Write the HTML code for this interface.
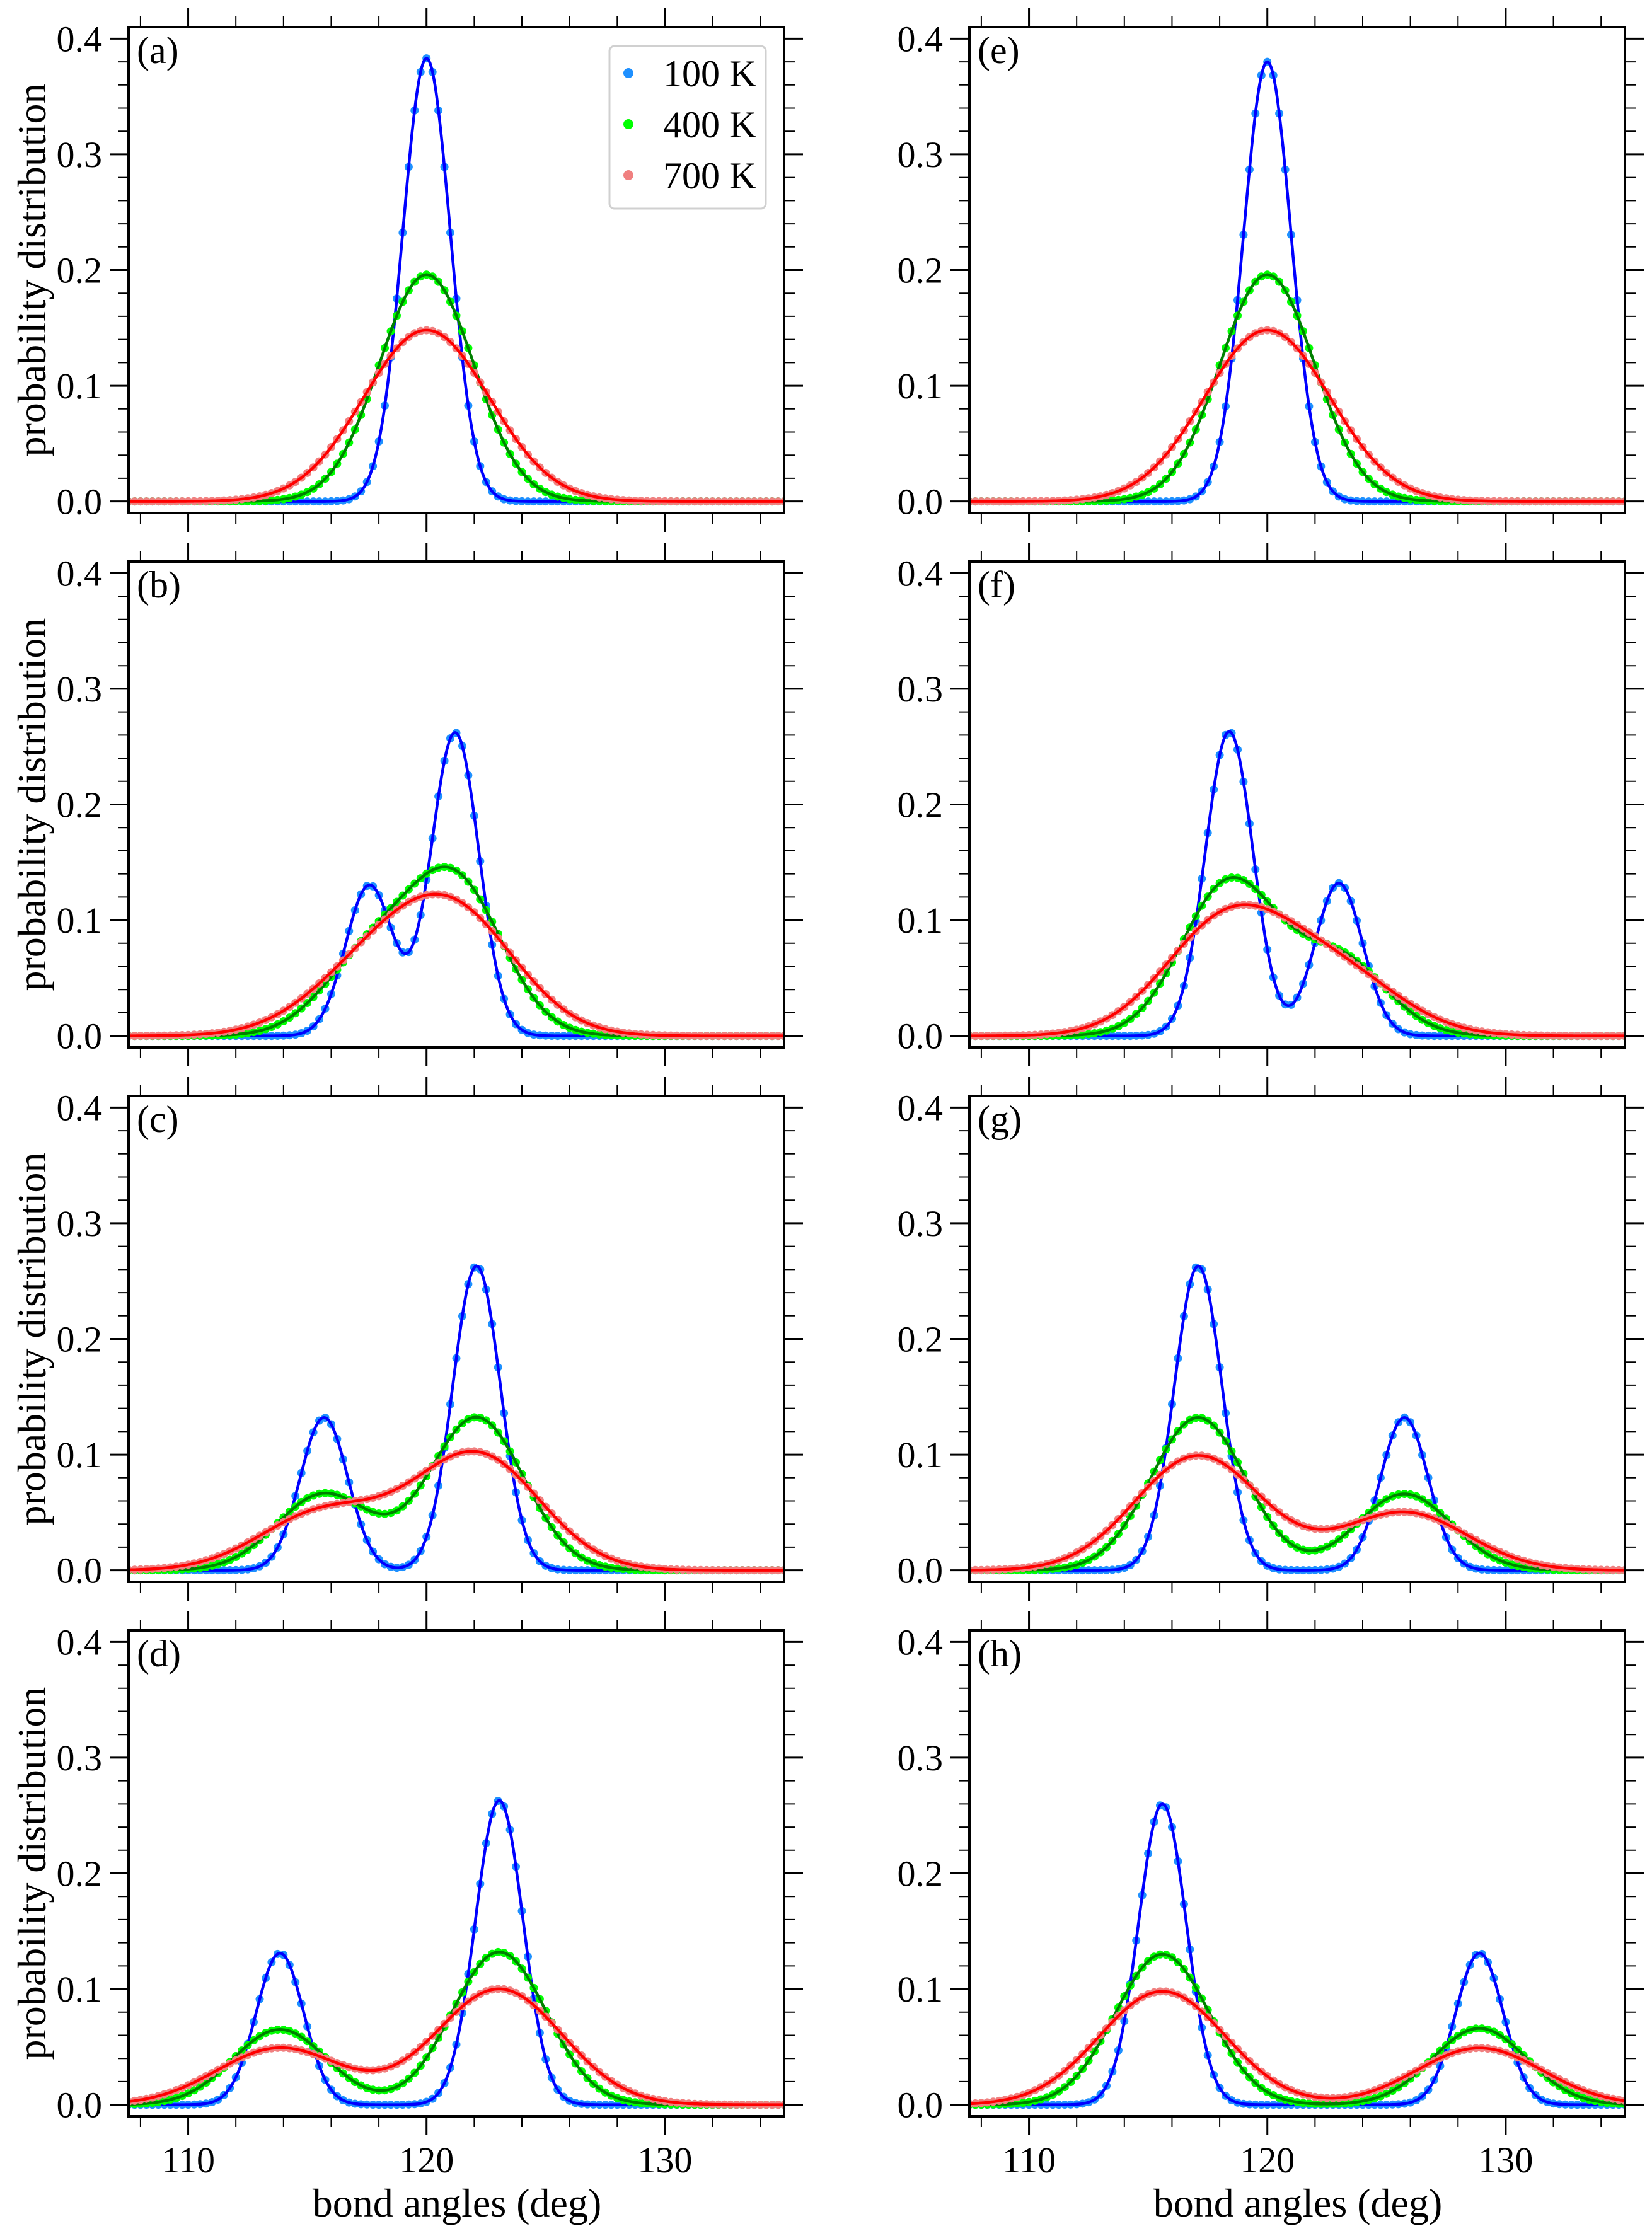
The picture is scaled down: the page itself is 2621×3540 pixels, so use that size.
<!DOCTYPE html>
<html><head><meta charset="utf-8"><title>Bond angle distributions</title>
<style>
html,body{margin:0;padding:0;background:#fff;}
svg{display:block;}
svg text{font-family:"Liberation Serif","DejaVu Serif",serif;}
</style></head>
<body>
<svg id="fig" width="2621" height="3540" viewBox="0 0 2621 3540" xmlns="http://www.w3.org/2000/svg" font-family="Liberation Serif, serif"></svg>
<script>
// ---- data ----
const panelLabels = ['(a)','(b)','(c)','(d)','(e)','(f)','(g)','(h)'];
const peakCenters = [[120.0],[117.6,121.2],[115.7,122.1],[113.85,123.05],[120.0],[118.4,123.0],[117.1,125.75],[115.6,128.9]];
const heights100 = [[0.383],[0.130,0.262],[0.132,0.263],[0.131,0.263],[0.380],[0.263,0.132],[0.263,0.132],[0.260,0.131]];
const heights400 = [[0.196],[0.065,0.131],[0.066,0.132],[0.065,0.132],[0.196],[0.132,0.066],[0.132,0.066],[0.130,0.066]];
const heights700 = [[0.148],[0.049,0.099],[0.050,0.100],[0.049,0.100],[0.148],[0.100,0.050],[0.099,0.050],[0.098,0.049]];
const peakWidths = [1.0, 1.98, 2.64]; // sigma (deg) for 100 K, 400 K, 700 K
const seriesNames = ['100 K','400 K','700 K'];
const xTickLabels = [110, 120, 130];
const yTickLabels = ['0.0','0.1','0.2','0.3','0.4'];

// ---- layout ----
const NS = 'http://www.w3.org/2000/svg';
const svg = document.getElementById('fig');
const colX = [204, 1538];
const rowY = [43, 891, 1739, 2587];
const PW = 1040, PH = 771;
const XMIN = 107.5, XMAX = 135, YMIN = -0.01, YMAX = 0.41;
const lineColors = ['#0000ff','#008000','#ff0000'];
const dotColors = ['#1e90ff','#00ff00','#f08080'];
const FONT = '"Liberation Serif", "DejaVu Serif", serif';

function mk(tag, attrs, parent){
  const e = document.createElementNS(NS, tag);
  for (const k in attrs) e.setAttribute(k, attrs[k]);
  if (tag === 'text') e.style.fontFamily = FONT;
  (parent || svg).appendChild(e);
  return e;
}
function model(x, centers, hs, s){
  let v = 0;
  for (let i = 0; i < centers.length; i++){ const d = x - centers[i]; v += hs[i] * Math.exp(-d*d/(2*s*s)); }
  return v;
}

for (let p = 0; p < 8; p++){
  const col = p < 4 ? 0 : 1, row = p % 4;
  const x0 = colX[col], y0 = rowY[row];
  const sx = v => x0 + (v - XMIN) / (XMAX - XMIN) * PW;
  const sy = v => y0 + (YMAX - v) / (YMAX - YMIN) * PH;
  const g = mk('g', {});
  
  

  const cp = mk('clipPath', {id: 'clip' + p}, g);
  mk('rect', {x: x0, y: y0, width: PW, height: PH}, cp);

  const hsets = [heights100[p], heights400[p], heights700[p]];
  for (let s = 0; s < 3; s++){
    const sg = mk('g', {'clip-path': 'url(#clip' + p + ')'}, g);
    
    
    for (let x = XMIN; x <= XMAX + 1e-6; x += 0.25){
      const c = mk('circle', {cx: sx(x).toFixed(1), cy: sy(model(x, peakCenters[p], hsets[s], peakWidths[s])).toFixed(1), r: 6.5, fill: dotColors[s]}, sg);
      
      
    }
    let d = '';
    for (let x = XMIN; x <= XMAX + 1e-6; x += 0.05){
      d += (d ? 'L' : 'M') + sx(x).toFixed(1) + ',' + sy(model(x, peakCenters[p], hsets[s], peakWidths[s])).toFixed(1);
    }
    const ln = mk('path', {d: d, fill: 'none', stroke: lineColors[s], 'stroke-width': 4.5, 'stroke-linejoin': 'round'}, sg);
    
    
  }

  const fr = mk('rect', {x: x0, y: y0, width: PW, height: PH, fill: 'none', stroke: '#000', 'stroke-width': 4}, g);
  
  

  for (let t = 108; t <= 134; t += 2){
    const major = (t % 10 === 0);
    const L = major ? 30 : 17, X = sx(t);
    mk('line', {x1: X, x2: X, y1: y0, y2: y0 - L, stroke: '#000', 'stroke-width': major ? 3 : 2}, g);
    mk('line', {x1: X, x2: X, y1: y0 + PH, y2: y0 + PH + L, stroke: '#000', 'stroke-width': major ? 3 : 2}, g);
  }
  for (let i = 0; i <= 20; i++){
    const v = i * 0.02, major = (i % 5 === 0);
    const L = major ? 30 : 17, Y = sy(v);
    mk('line', {x1: x0, x2: x0 - L, y1: Y, y2: Y, stroke: '#000', 'stroke-width': major ? 3 : 2}, g);
    mk('line', {x1: x0 + PW, x2: x0 + PW + L, y1: Y, y2: Y, stroke: '#000', 'stroke-width': major ? 3 : 2}, g);
  }
  yTickLabels.forEach((lab, i) => {
    const t = mk('text', {x: x0 - 42, y: sy(i * 0.1) + 20, 'text-anchor': 'end', 'font-size': 58}, g);
    t.textContent = lab;
    
    
  });
  if (row === 3){
    xTickLabels.forEach(v => {
      const t = mk('text', {x: sx(v), y: 3447, 'text-anchor': 'middle', 'font-size': 58}, g);
      t.textContent = v;
      
      
    });
    const xl = mk('text', {x: x0 + 521, y: 3517, 'text-anchor': 'middle', 'font-size': 64}, g);
    xl.textContent = 'bond angles (deg)';
    
    
  }
  if (col === 0){
    const cy = y0 + PH / 2;
    const yl = mk('text', {x: 0, y: 0, 'text-anchor': 'middle', 'font-size': 64, transform: 'translate(72,' + cy + ') rotate(-90)'}, g);
    yl.textContent = 'probability distribution';
    
    
  }
  const pl = mk('text', {x: x0 + 13, y: y0 + 57, 'font-size': 60}, g);
  pl.textContent = panelLabels[p];
  
  

  if (p === 0){
    const lg = mk('g', {}, g);
    
    
    mk('rect', {x: x0 + 763, y: y0 + 30, width: 248, height: 258, rx: 8, fill: '#fff', 'fill-opacity': 0.85, stroke: '#d0d0d0', 'stroke-width': 3}, lg);
    seriesNames.forEach((nm, s) => {
      const ey = y0 + 73 + s * 81;
      const e = mk('g', {}, lg);
      
      
      mk('circle', {cx: x0 + 793, cy: ey, r: 8, fill: dotColors[s]}, e);
      const t = mk('text', {x: x0 + 848, y: ey + 21, 'font-size': 60}, e);
      t.textContent = nm;
    });
  }
}
</script>
</body></html>
